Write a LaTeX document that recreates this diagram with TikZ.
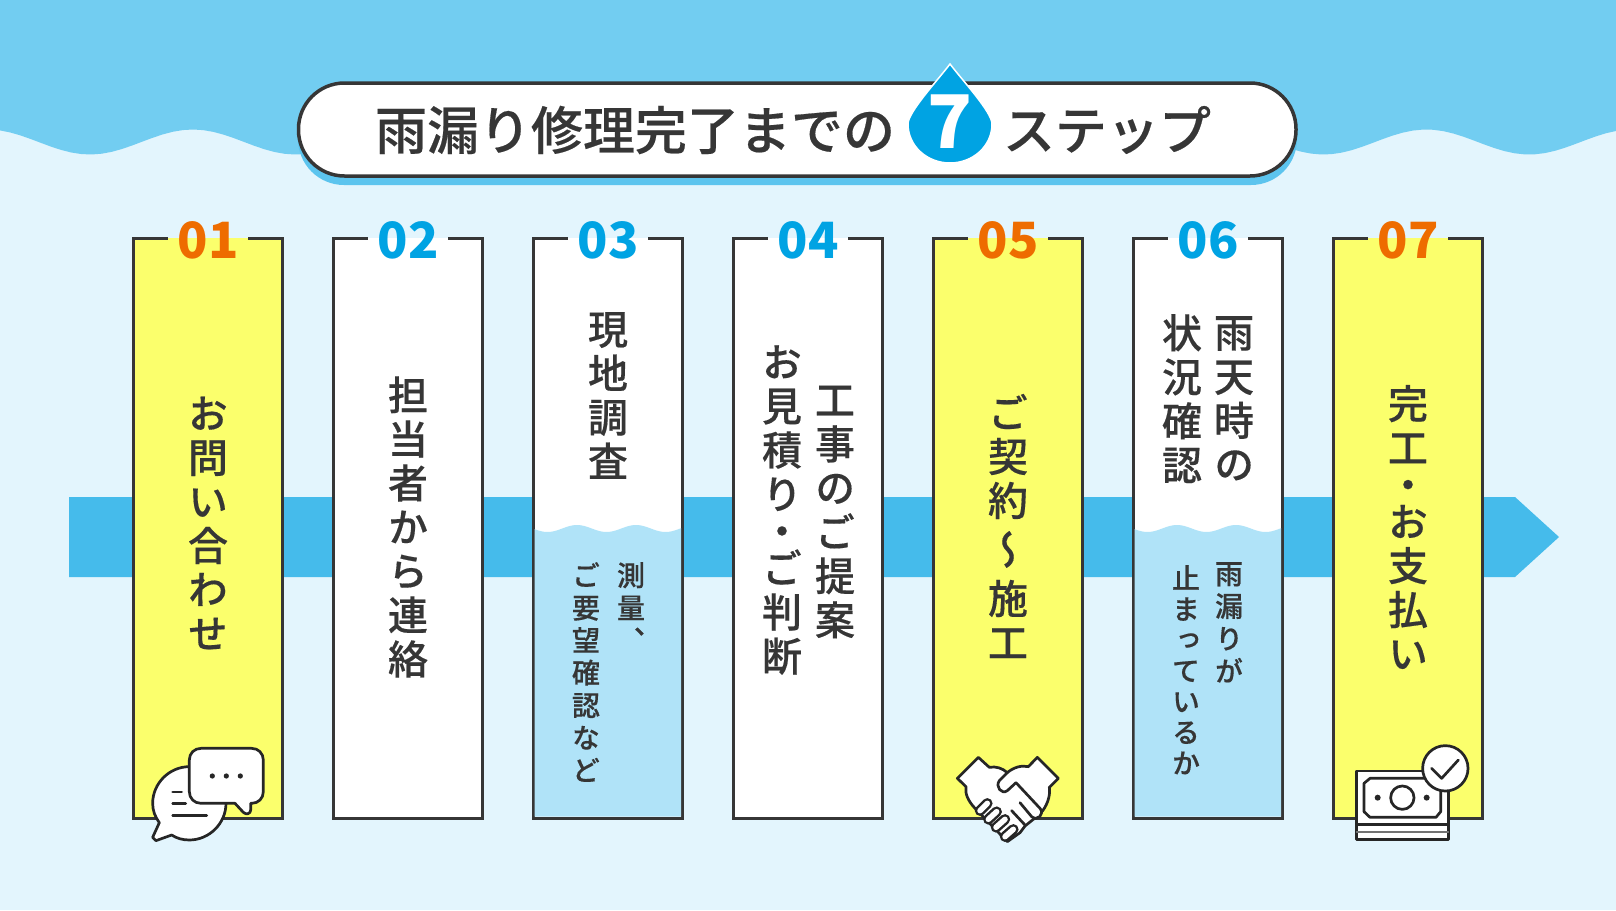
\documentclass[tikz,border=0pt]{standalone}
\usepackage{fontspec}
\setmainfont{Noto Sans CJK JP}
\newfontfamily\tatefont[RawFeature={+vert},FakeBold=0.35]{Noto Sans CJK JP Medium}
\newfontfamily\midfont[FakeBold=0.35]{Noto Sans CJK JP Medium}
\definecolor{skyblue}{HTML}{72CDF1}
\definecolor{paleblue}{HTML}{E3F5FD}
\definecolor{bandblue}{HTML}{45BBEB}
\definecolor{shadowblue}{HTML}{5CC4EE}
\definecolor{waterblue}{HTML}{B0E3F8}
\definecolor{dropblue}{HTML}{00A3E3}
\definecolor{numorange}{HTML}{EE6C00}
\definecolor{markyellow}{HTML}{FBFF6C}
\definecolor{inkgrey}{HTML}{363636}
\makeatletter
\newcommand{\tate}[1]{\@tfor\tatech:=#1\do{\tatech\par}}
\makeatother
\newcommand{\tatedot}{\vspace{-7pt}・\par\vspace{-7pt}}
\newcommand{\tatewave}{\vspace{5pt}〜\par\vspace{5pt}}

\begin{document}
\begin{tikzpicture}[x=1pt,y=-1pt]
        \tikzset{column/.style = {draw=inkgrey,line width=3pt}}
        \tikzset{numlabel/.style = {inner sep=0pt,font=\fontsize{50}{50}\selectfont\bfseries}}
        \tikzset{bigtate/.style = {inner sep=0pt,text width=50pt,align=center,text=inkgrey,font=\tatefont\fontsize{40}{44}\selectfont}}
        \tikzset{subtate/.style = {inner sep=0pt,text width=36pt,align=center,text=inkgrey,font=\tatefont\fontsize{28}{32.5}\selectfont}}
        \tikzset{subtight/.style = {subtate,font=\tatefont\fontsize{28}{30.8}\selectfont}}
        \tikzset{titletext/.style = {inner sep=0pt,text=inkgrey,font=\midfont\fontsize{52}{52}\selectfont}}
        \tikzset{icon/.style = {draw=black!85,line width=2.7pt,line join=round,line cap=round}}
        \useasboundingbox (0,0) rectangle (1616,910);
        % background
        \fill[paleblue] (0,0) rectangle (1616,910);
        \fill[skyblue] (0,0) -- plot[domain=0:1616,samples=160] (\x,{142+12.5*cos((\x-90)*1.751)}) -- (1616,0) -- cycle;
        \fill[bandblue] (69,497) -- (1515,497) -- (1559,537) -- (1515,577) -- (69,577) -- cycle;
        % title
        \fill[shadowblue,rounded corners=46pt] (298,92) rectangle (1297,185);
        \draw[fill=white,draw=inkgrey,line width=3.5pt,rounded corners=46pt] (298.5,83) rectangle (1296,176);
        \draw[fill=dropblue,draw=white,line width=1.5pt] (950,64) .. controls (962,80) and (992,112) .. (992,124) .. controls (992,146) and (973,163) .. (950,163) .. controls (927,163) and (908,146) .. (908,124) .. controls (908,112) and (938,80) .. (950,64) -- cycle;
        \node[inner sep=0pt,text=white,font=\fontsize{74}{74}\selectfont\bfseries] (seven) at (950,122) {7};
        \node[titletext] (title1) at (635,130) {雨漏り修理完了までの};
        \node[titletext] (title2) at (1107,130) {ステップ};
        % columns
        \draw[column,fill=markyellow,xshift=133pt] (115,238) -- (149.5,238) -- (149.5,818) -- (0,818) -- (0,238) -- (35,238);
        \draw[column,fill=white,xshift=333pt] (115,238) -- (149.5,238) -- (149.5,818) -- (0,818) -- (0,238) -- (35,238);
        \draw[column,fill=white,xshift=533pt] (115,238) -- (149.5,238) -- (149.5,818) -- (0,818) -- (0,238) -- (35,238);
        \draw[column,fill=white,xshift=733pt] (115,238) -- (149.5,238) -- (149.5,818) -- (0,818) -- (0,238) -- (35,238);
        \draw[column,fill=markyellow,xshift=933pt] (115,238) -- (149.5,238) -- (149.5,818) -- (0,818) -- (0,238) -- (35,238);
        \draw[column,fill=white,xshift=1133pt] (115,238) -- (149.5,238) -- (149.5,818) -- (0,818) -- (0,238) -- (35,238);
        \draw[column,fill=markyellow,xshift=1333pt] (115,238) -- (149.5,238) -- (149.5,818) -- (0,818) -- (0,238) -- (35,238);
        % water
        \fill[waterblue] (534.5,816.5) -- plot[domain=534.5:681,samples=60] (\x,{528.5-3.5*cos((\x-577)*6.1)}) -- (681,816.5) -- cycle;
        \fill[waterblue,xshift=600pt] (534.5,816.5) -- plot[domain=534.5:681,samples=60] (\x,{528.5-3.5*cos((\x-577)*6.1)}) -- (681,816.5) -- cycle;
        % numbers
        \node[numlabel,text=numorange] (num1) at (208,240) {01};
        \node[numlabel,text=dropblue] (num2) at (408,240) {02};
        \node[numlabel,text=dropblue] (num3) at (608,240) {03};
        \node[numlabel,text=dropblue] (num4) at (808,240) {04};
        \node[numlabel,text=numorange] (num5) at (1008,240) {05};
        \node[numlabel,text=dropblue] (num6) at (1208,240) {06};
        \node[numlabel,text=numorange] (num7) at (1408,240) {07};
        % labels
        \node[bigtate] (step1) at (208,523) {\tate{お問い合わせ}};
        \node[bigtate] (step2) at (408,527) {\tate{担当者から連絡}};
        \node[bigtate,anchor=north] (step3) at (608,312) {\tate{現地調査}};
        \node[subtate,anchor=north] (sub3a) at (631,562) {\tate{測量、}};
        \node[subtate,anchor=north] (sub3b) at (586,562) {\tate{ご要望確認など}};
        \node[bigtate] (step4a) at (835,512) {\tate{工事のご提案}};
        \node[bigtate] (step4b) at (782,510) {\tate{お見積り\tatedot ご判断}};
        \node[bigtate] (step5) at (1008,526) {\tate{ご契約\tatewave 施工}};
        \node[bigtate,anchor=north] (step6a) at (1234,316) {\tate{雨天時の}};
        \node[bigtate,anchor=north] (step6b) at (1182,314) {\tate{状況確認}};
        \node[subtate,anchor=north] (sub6a) at (1229,562) {\tate{雨漏りが}};
        \node[subtight,anchor=north] (sub6b) at (1186,565) {\tate{止まっているか}};
        \node[bigtate] (step7) at (1408,527) {\tate{完工\tatedot お支払い}};
        % chat icon
        \begin{scope}[shift={(120,720)},x=.3333pt,y=-.3333pt]
        \draw[icon,fill=white] (118,308) .. controls (105,290) and (98,272) .. (98,250) .. controls (98,190) and (148,140) .. (208,140) .. controls (268,140) and (318,190) .. (318,250) .. controls (318,310) and (268,360) .. (208,360) .. controls (188,360) and (170,355) .. (155,345) -- (108,362) -- (98,352) -- cycle;
        \draw[icon] (158,216) -- (185,216);
        \draw[icon] (158,251) -- (197,251);
        \draw[icon] (158,286) -- (260,286);
        \draw[icon,fill=white] (243,85) -- (395,85) .. controls (415,85) and (430,100) .. (430,120) -- (430,215) .. controls (430,235) and (415,250) .. (395,250) -- (392,250) -- (392,270) .. controls (392,282) and (378,285) .. (370,277) -- (345,250) -- (243,250) .. controls (223,250) and (208,235) .. (208,215) -- (208,120) .. controls (208,100) and (223,85) .. (243,85) -- cycle;
        \fill[black!85] (277,168) circle (2.6pt) (319,168) circle (2.6pt) (361,168) circle (2.6pt);
        \end{scope}
        % handshake icon
        \begin{scope}[shift={(930,740)},x=.3333pt,y=-.3333pt]
        \draw[icon,fill=white] (145,52) -- (178,82) .. controls (198,78) and (218,85) .. (232,98) .. controls (250,82) and (275,75) .. (295,80) -- (322,52) -- (385,115) -- (358,142) .. controls (362,170) and (350,200) .. (330,222) -- (285,258) -- (270,278) -- (232,305) -- (135,205) .. controls (112,180) and (105,160) .. (108,140) -- (82,115) -- cycle;
        \draw[icon,fill=white] (232,98) -- (208,122) .. controls (195,140) and (215,165) .. (232,152) -- (258,128) -- (330,205) .. controls (345,222) and (322,245) .. (305,230) -- (270,188);
        \draw[icon] (245,212) -- (285,255);
        \draw[black!85,line width=10.5pt,line cap=round] (150,212) -- (172,190);
        \draw[white,line width=5.5pt,line cap=round] (150,212) -- (172,190);
        \draw[black!85,line width=10.5pt,line cap=round] (175,238) -- (200,215);
        \draw[white,line width=5.5pt,line cap=round] (175,238) -- (200,215);
        \draw[black!85,line width=10.5pt,line cap=round] (198,262) -- (225,238);
        \draw[white,line width=5.5pt,line cap=round] (198,262) -- (225,238);
        \draw[black!85,line width=10.5pt,line cap=round] (225,290) -- (250,268);
        \draw[white,line width=5.5pt,line cap=round] (225,290) -- (250,268);
        \end{scope}
        % money icon
        \begin{scope}[shift={(1330,730)},x=.3333pt,y=-.3333pt]
        \draw[icon,fill=white] (80,123) rectangle (355,328);
        \draw[icon] (80,283) -- (355,283);
        \draw[icon,draw=black!55,line width=1.8pt] (80,305) -- (355,305);
        \draw[icon] (102,160) -- (120,145) -- (315,145) -- (332,160) -- (332,245) -- (318,262) -- (120,262) -- (102,245) -- cycle;
        \draw[icon] (217,203) circle (11.7pt);
        \fill[black!85] (143,203) circle (3pt) (290,203) circle (3pt);
        \draw[icon,fill=white] (346,115) circle (22.7pt);
        \draw[icon] (305,115) -- (335,145) -- (385,90);
        \end{scope}
    \end{tikzpicture}
\end{document}
